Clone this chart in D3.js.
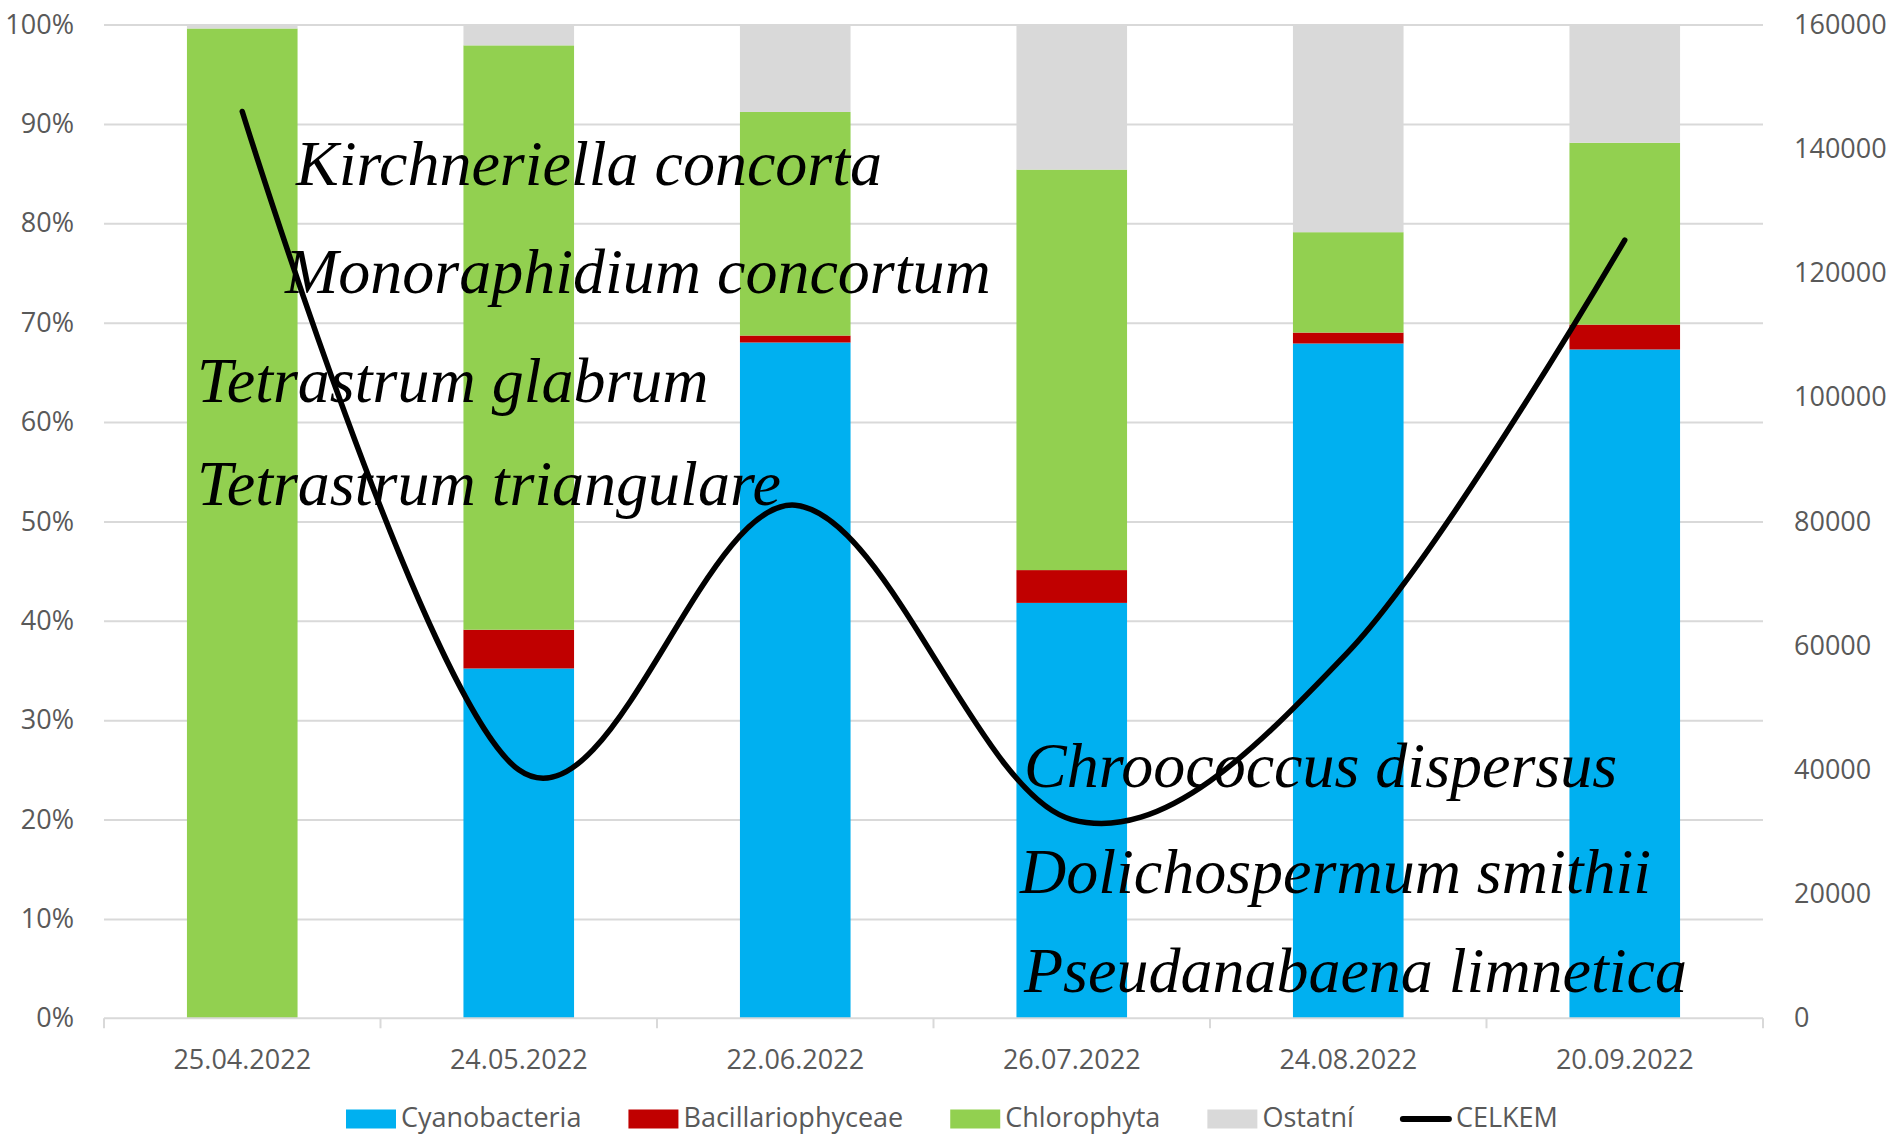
<!DOCTYPE html>
<html>
<head>
<meta charset="utf-8">
<script src="https://cdn.jsdelivr.net/npm/d3@7"></script>
<style>
  html, body { margin: 0; padding: 0; background: #ffffff; }
  svg { display: block; }
</style>
</head>
<body>
<svg id="chart" width="1893" height="1136"></svg>
<script>
// ---------- data ----------
const categories = ["25.04.2022", "24.05.2022", "22.06.2022", "26.07.2022", "24.08.2022", "20.09.2022"];
const cyanobacteria     = [0.0, 35.2, 68.0, 41.8, 67.9, 67.3];
const bacillariophyceae = [0.0,  3.9,  0.7,  3.3,  1.1,  2.5];
const chlorophyta       = [99.6, 58.8, 22.5, 40.3, 10.1, 18.3];
const ostatni           = [0.4,  2.1,  8.8, 14.6, 20.9, 11.9];
const celkem            = [146000, 40000, 82600, 32000, 59000, 125300];
const seriesNames  = ["Cyanobacteria", "Bacillariophyceae", "Chlorophyta", "Ostatní"];
const seriesColors = ["#00B0F0", "#C00000", "#92D050", "#D9D9D9"];
const lineName = "CELKEM";
const pctTicks = [0, 0.1, 0.2, 0.3, 0.4, 0.5, 0.6, 0.7, 0.8, 0.9, 1.0];
const totalTicks = [0, 20000, 40000, 60000, 80000, 100000, 120000, 140000, 160000];
const annotationsLeft  = ["Kirchneriella concorta", "Monoraphidium concortum", "Tetrastrum glabrum", "Tetrastrum triangulare"];
const annotationsRight = ["Chroococcus dispersus", "Dolichospermum smithii", "Pseudanabaena limnetica"];

(function () {
// ---------- layout ----------
const svg = d3.select("#chart");
const pL = 104, pR = 1763, pT = 24.5, pB = 1018.3;
const axisColor = "#595959", gridColor = "#D9D9D9";
const tickFont = "'Open Sans', 'Noto Sans', sans-serif";

const x = d3.scaleBand().domain(categories).range([pL, pR]).paddingInner(0.6).paddingOuter(0.3);
const yPct = d3.scaleLinear().domain([0, 1]).range([pB, pT]);
const yTot = d3.scaleLinear().domain([0, 160000]).range([pB, pT]);

// gridlines
svg.append("g")
  .attr("transform", `translate(${pL},0)`)
  .call(d3.axisLeft(yPct).tickValues(pctTicks.slice(1)).tickSize(-(pR - pL)).tickFormat(""))
  .call(g => g.select(".domain").remove())
  .call(g => g.selectAll("line").attr("stroke", gridColor).attr("stroke-width", 2));

// stacked bars
const rows = categories.map((c, i) => ({
  cat: c,
  Cyanobacteria: cyanobacteria[i] / 100,
  Bacillariophyceae: bacillariophyceae[i] / 100,
  Chlorophyta: chlorophyta[i] / 100,
  "Ostatní": ostatni[i] / 100
}));
const stack = d3.stack().keys(seriesNames)(rows);
svg.append("g").selectAll("g").data(stack).join("g")
  .attr("fill", (d, i) => seriesColors[i])
  .selectAll("rect").data(d => d).join("rect")
  .attr("x", d => x(d.data.cat))
  .attr("width", x.bandwidth())
  .attr("y", d => yPct(d[1]))
  .attr("height", d => Math.max(0, yPct(d[0]) - yPct(d[1])));

// x axis line & ticks
svg.append("line").attr("x1", pL).attr("x2", pR).attr("y1", pB).attr("y2", pB)
  .attr("stroke", gridColor).attr("stroke-width", 2);
const edges = categories.map(c => x(c) - (x.step() - x.bandwidth()) / 2);
edges.push(edges[edges.length - 1] + x.step());
svg.append("g").selectAll("line").data(edges).join("line")
  .attr("x1", d => d).attr("x2", d => d).attr("y1", pB).attr("y2", pB + 10)
  .attr("stroke", gridColor).attr("stroke-width", 2);

const xAxis = svg.append("g")
  .attr("transform", `translate(0,${pB})`)
  .call(d3.axisBottom(x).tickSize(0).tickPadding(32));
xAxis.select(".domain").remove();
xAxis.selectAll("text").attr("font-family", tickFont).attr("font-size", 27).attr("fill", axisColor);

// left axis labels
const yl = svg.append("g")
  .attr("transform", `translate(${pL},0)`)
  .call(d3.axisLeft(yPct).tickValues(pctTicks).tickFormat(d3.format(".0%")).tickSize(0).tickPadding(30));
yl.select(".domain").remove();
yl.selectAll("text").attr("font-family", tickFont).attr("font-size", 27).attr("fill", axisColor);

// right axis labels
const yr = svg.append("g")
  .attr("transform", `translate(${pR},0)`)
  .call(d3.axisRight(yTot).tickValues(totalTicks).tickFormat(d3.format("d")).tickSize(0).tickPadding(31));
yr.select(".domain").remove();
yr.selectAll("text").attr("font-family", tickFont).attr("font-size", 27).attr("fill", axisColor);

// CELKEM line
const line = d3.line()
  .x((d, i) => x(categories[i]) + x.bandwidth() / 2)
  .y(d => yTot(d))
  .curve(d3.curveCardinal.tension(0));
svg.append("path").datum(celkem)
  .attr("d", line)
  .attr("fill", "none").attr("stroke", "#000").attr("stroke-width", 5.5)
  .attr("stroke-linecap", "round").attr("stroke-linejoin", "round");

// annotations
const serif = "'Liberation Serif', 'Times New Roman', serif";
const leftPos = [[296, 185], [285, 293], [197, 402], [197, 505]];
svg.append("g").selectAll("text").data(annotationsLeft).join("text")
  .attr("x", (d, i) => leftPos[i][0]).attr("y", (d, i) => leftPos[i][1])
  .attr("font-family", serif).attr("font-style", "italic").attr("font-size", 64).attr("fill", "#000")
  .text(d => d);
const rightPos = [[1024, 787], [1020, 893], [1024, 992]];
svg.append("g").selectAll("text").data(annotationsRight).join("text")
  .attr("x", (d, i) => rightPos[i][0]).attr("y", (d, i) => rightPos[i][1])
  .attr("font-family", serif).attr("font-style", "italic").attr("font-size", 64).attr("fill", "#000")
  .text(d => d);

// legend
const legend = svg.append("g").attr("transform", "translate(346,1118)");
let lx = 0;
const legendItems = seriesNames.map((n, i) => ({ name: n, color: seriesColors[i], type: "rect" }))
  .concat([{ name: lineName, color: "#000", type: "line" }]);
legendItems.forEach(item => {
  const g = legend.append("g").attr("transform", `translate(${lx},0)`);
  if (item.type === "rect") {
    g.append("rect").attr("x", 0).attr("y", -8.5).attr("width", 50).attr("height", 19).attr("fill", item.color);
  } else {
    g.append("line").attr("x1", 2).attr("x2", 48).attr("y1", 1).attr("y2", 1)
      .attr("stroke", item.color).attr("stroke-width", 6).attr("stroke-linecap", "round");
  }
  const t = g.append("text").attr("x", 55).attr("y", 0).attr("dy", "0.35em")
    .attr("font-family", tickFont).attr("font-size", 27).attr("fill", axisColor).text(item.name);
  lx += 55 + t.node().getComputedTextLength() + 47;
});
})();
</script>
</body>
</html>
